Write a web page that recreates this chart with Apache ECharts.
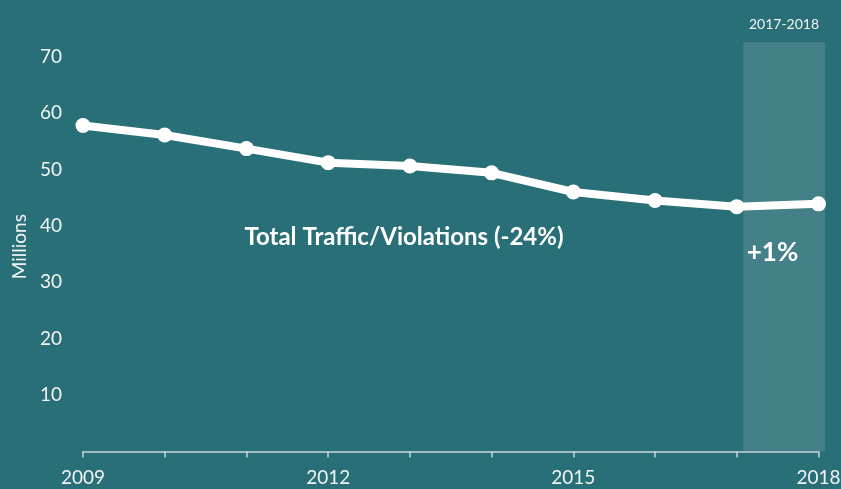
<!DOCTYPE html>
<html>
<head>
<meta charset="utf-8">
<script src="https://cdn.jsdelivr.net/npm/echarts@6/dist/echarts.min.js"></script>
<style>
  html, body { margin: 0; padding: 0; background: #296f78; }
  #chart { width: 841px; height: 489px; }
</style>
</head>
<body>
<div id="chart"></div>
<script>
// data
var years = [2009, 2010, 2011, 2012, 2013, 2014, 2015, 2016, 2017, 2018];
var totals = [57.8, 56.1, 53.7, 51.2, 50.6, 49.4, 46.0, 44.5, 43.4, 43.9];
var shadeRange = [2017, 2018];
var labelYears = [2009, 2012, 2015, 2018];

var chart = echarts.init(document.getElementById('chart'));

var font = 'Lato, "Open Sans", sans-serif';
var textColor = '#f2f4f4';

// the shaded band sits a few px right of the ticks, so it gets its own grid
var shift = 6.5;

var option = {
  backgroundColor: '#296f78',
  animation: false,
  grid: [
    { left: 83, right: 22.5, top: 42, bottom: 37.6, outerBoundsMode: 'none' },
    { left: 83 + shift, right: 22.5 - shift, top: 42, bottom: 37.6, outerBoundsMode: 'none' }
  ],
  xAxis: [
    {
      type: 'value',
      gridIndex: 0,
      min: 2009,
      max: 2018,
      interval: 1,
      splitLine: { show: false },
      axisLine: { lineStyle: { color: '#c9d6d8', width: 1.5 } },
      axisTick: { show: true, length: 6, lineStyle: { color: '#c9d6d8', width: 1.5 } },
      axisLabel: {
        color: textColor,
        fontFamily: font,
        fontSize: 19,
        margin: 17,
        showMinLabel: true,
        showMaxLabel: true,
        formatter: function (v) {
          return labelYears.indexOf(v) >= 0 ? String(v) : '';
        }
      }
    },
    { type: 'value', gridIndex: 1, min: 2009, max: 2018, show: false }
  ],
  yAxis: [
    {
      type: 'value',
      gridIndex: 0,
      min: 0,
      max: 72.6,
      interval: 10,
      name: 'Millions',
      nameLocation: 'middle',
      nameRotate: 90,
      nameGap: 53,
      nameTextStyle: { color: textColor, fontFamily: font, fontSize: 19 },
      splitLine: { show: false },
      axisLine: { show: false },
      axisTick: { show: false },
      axisLabel: {
        color: textColor,
        fontFamily: font,
        fontSize: 19,
        margin: 21,
        formatter: function (v) {
          // only whole tens, and no zero
          return (v > 0 && v % 10 === 0) ? String(v) : '';
        }
      }
    },
    { type: 'value', gridIndex: 1, min: 0, max: 72.6, show: false }
  ],
  series: [
    {
      type: 'line',
      xAxisIndex: 1,
      yAxisIndex: 1,
      data: [],
      z: 1,
      markArea: {
        silent: true,
        itemStyle: { color: 'rgba(255,255,255,0.12)' },
        data: [[{ xAxis: shadeRange[0] }, { xAxis: shadeRange[1] }]]
      }
    },
    {
      type: 'line',
      clip: false,
      z: 3,
      data: years.map(function (y, i) { return [y, totals[i]]; }),
      symbol: 'circle',
      symbolSize: 15,
      lineStyle: { color: '#ffffff', width: 8 },
      itemStyle: { color: '#ffffff' }
    }
  ],
  graphic: [
    {
      type: 'text',
      style: {
        text: 'Total Traffic/Violations (-24%)',
        x: 404, y: 237,
        fill: '#ffffff',
        font: 'bold 24px ' + font,
        textAlign: 'center',
        textVerticalAlign: 'middle'
      }
    },
    {
      type: 'text',
      style: {
        text: '+1%',
        x: 772.5, y: 253,
        fill: '#ffffff',
        font: 'bold 26px ' + font,
        textAlign: 'center',
        textVerticalAlign: 'middle'
      }
    },
    {
      type: 'text',
      style: {
        text: '2017-2018',
        x: 784, y: 24,
        fill: textColor,
        font: '14px ' + font,
        textAlign: 'center',
        textVerticalAlign: 'middle'
      }
    }
  ]
};

chart.setOption(option);
</script>
</body>
</html>
